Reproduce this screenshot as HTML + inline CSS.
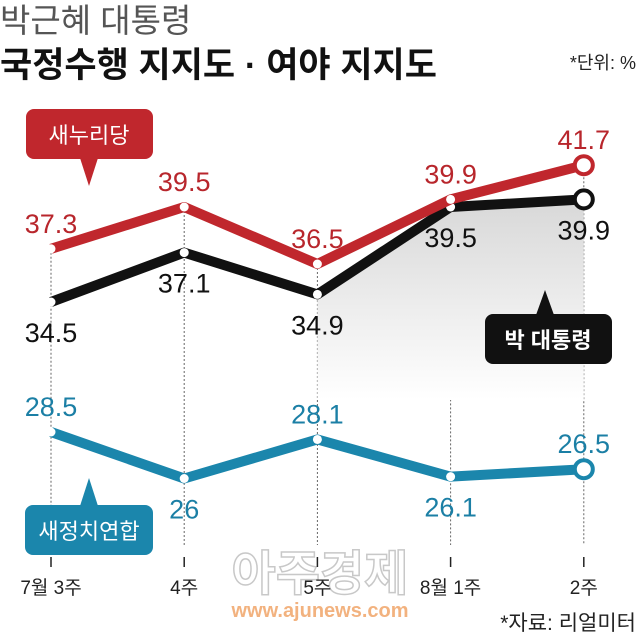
<!DOCTYPE html>
<html><head><meta charset="utf-8"><style>
body{margin:0;background:#fff;width:640px;height:636px;overflow:hidden}
svg{display:block;font-family:"Liberation Sans","Noto Sans CJK KR",sans-serif}
</style></head><body>
<svg width="640" height="636" viewBox="0 0 640 636">
<defs><linearGradient id="gr" x1="0" y1="0" x2="0" y2="1"><stop offset="0" stop-color="#d8d8d8"/><stop offset="1" stop-color="#fff"/></linearGradient></defs>
<text x="0" y="32" font-size="33" fill="#555">박근혜 대통령</text>
<text x="0" y="77" font-size="35" font-weight="bold" fill="#111">국정수행 지지도 · 여야 지지도</text>
<text x="636" y="69" font-size="18" fill="#222" text-anchor="end">*단위: %</text>
<g id="grid"></g><g id="area"></g><g id="lines"></g><g id="labels"></g>
<g>
<rect x="26" y="109" width="127" height="50" rx="8" fill="#c0272d"/><polygon points="80,158 98,158 89,186" fill="#c0272d"/>
<text x="89" y="143" font-size="22" fill="#fff" text-anchor="middle">새누리당</text></g>
<g>
<rect x="485" y="314" width="127" height="50" rx="8" fill="#111"/><polygon points="536,315 554,315 545,290" fill="#111"/>
<text x="548" y="348" font-size="22" font-weight="bold" fill="#fff" text-anchor="middle">박 대통령</text></g>
<g>
<rect x="25" y="505" width="128" height="50" rx="8" fill="#1b86ac"/><polygon points="80,506 98,506 89,478" fill="#1b86ac"/>
<text x="89" y="539" font-size="22" fill="#fff" text-anchor="middle">새정치연합</text></g>
<text x="320" y="590" font-size="48" font-weight="bold" fill="#fff" stroke="#bbb" stroke-width="1.5" text-anchor="middle" opacity="0.8">아주경제</text>
<text x="320" y="617" font-size="20" font-weight="bold" fill="#f0a060" text-anchor="middle" opacity="0.8">www.ajunews.com</text>
<text x="636" y="630" font-size="21" fill="#222" text-anchor="end">*자료: 리얼미터</text>
<g id="xaxis"></g>
</svg>
<script>
const categories=["7월 3주","4주","5주","8월 1주","2주"];
const saenuri=[37.3,39.5,36.5,39.9,41.7];
const president=[34.5,37.1,34.9,39.5,39.9];
const npad=[28.5,26,28.1,26.1,26.5];
const xs=i=>51+i*133.2;
const yTop=v=>207+(39.5-v)*19;
const yBot=v=>432+(28.5-v)*18.6;
const NS="http://www.w3.org/2000/svg";
function mk(p,t,a){const e=document.createElementNS(NS,t);for(const k in a)e.setAttribute(k,a[k]);document.getElementById(p).appendChild(e);return e;}
categories.forEach((c,i)=>{
 const l=mk('grid','line',{x1:xs(i),x2:xs(i),y1:yTop(saenuri[i]),y2:545,stroke:'#666','stroke-width':1,'stroke-dasharray':'2,2'});
 
 
 const t=mk('xaxis','line',{x1:xs(i),x2:xs(i),y1:557,y2:567,stroke:'#222','stroke-width':1.5});
 
 
 const tx=mk('xaxis','text',{x:xs(i),y:594,'font-size':19,fill:'#222','text-anchor':'middle'});
 tx.textContent=c;
 
 
});
const ap=president.map((v,i)=>i>=2?xs(i)+','+yTop(v):null).filter(Boolean);
const a=mk('area','polygon',{points:ap.join(' ')+' '+xs(4)+',400 '+xs(2)+',400',fill:'url(#gr)'});


function series(arr,yf,col,name,lab,pos){
 const pts=arr.map((v,i)=>xs(i)+','+yf(v)).join(' ');
 const pl=mk('lines','polyline',{points:pts,fill:'none',stroke:col,'stroke-width':10,'stroke-linejoin':'round'});
 
 
 arr.forEach((v,i)=>{
  const last=i==arr.length-1;
  const c=mk('lines','circle',{cx:xs(i),cy:yf(v),r:last?9:4.5,fill:'#fff',stroke:last?col:'none','stroke-width':4});
  
  
  const below=pos[i];
  const t=mk('labels','text',{x:xs(i),y:below?yf(v)+40:yf(v)-16,'font-size':27,fill:lab,'text-anchor':'middle'});
  t.textContent=v;
  
  
 });
}
series(president,yTop,'#111','president','#111',[1,1,1,1,1]);
series(saenuri,yTop,'#c0272d','saenuri','#b8262c',[0,0,0,0,0]);
series(npad,yBot,'#1b86ac','npad','#1b7fa5',[0,1,0,1,0]);
</script>
</body></html>
